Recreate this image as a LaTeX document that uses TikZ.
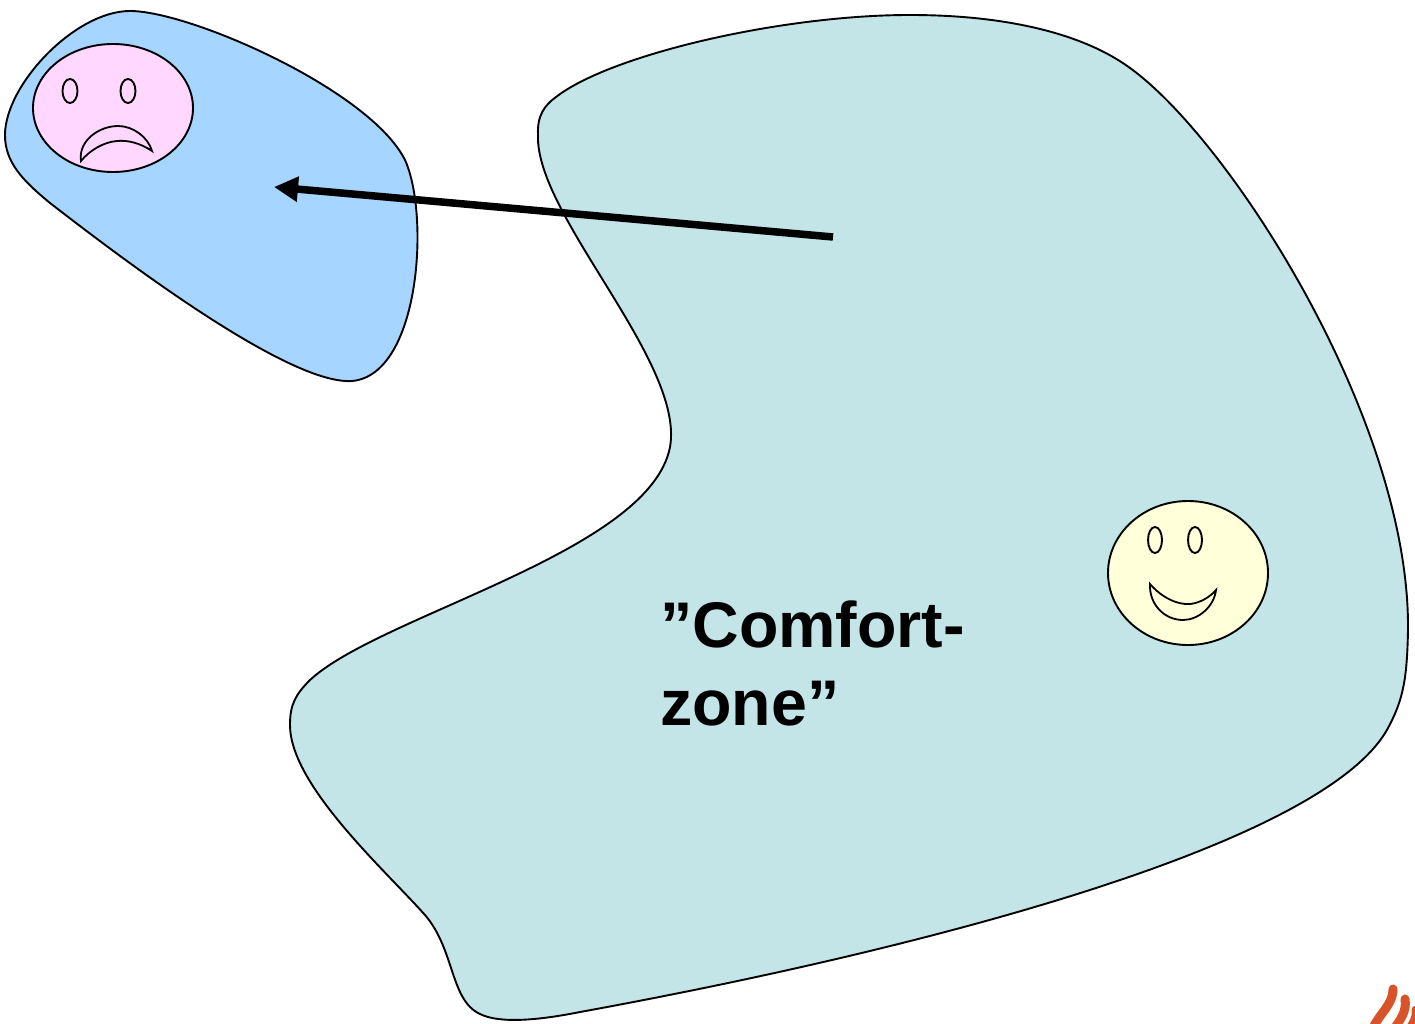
\documentclass[tikz,border=0pt]{standalone}
\usepackage{fontspec}
\setmainfont{Liberation Sans}
\usetikzlibrary{arrows.meta}
\definecolor{zonefill}{HTML}{C3E5E8}
\definecolor{outfill}{HTML}{A6D5FF}
\definecolor{sadfill}{HTML}{FFD7FF}
\definecolor{happyfill}{HTML}{FFFFD9}
\definecolor{flame}{HTML}{D9532A}
\tikzset{
  blob/.style={draw=black,line width=1.9pt,line join=round},
  face/.style={draw=black,line width=1.9pt},
  eye/.style={draw=black,line width=1.9pt,fill=none},
  mouth/.style={draw=black,line width=1.8pt,line join=miter},
  bigarrow/.style={draw=black,line width=7.5pt,-{Triangle[length=24pt,width=24pt]},shorten >=0pt},
  lbl/.style={font=\fontsize{64.5}{78}\selectfont\bfseries,align=left,anchor=north west,inner sep=0pt},
  flamestroke/.style={draw=flame,line width=9pt,line cap=round}
}
\begin{document}
\begin{tikzpicture}[x=1pt,y=-1pt]
\useasboundingbox (0,0) rectangle (1415,1024);
% comfort zone
\path[blob,fill=zonefill] (538,135)
 .. controls (537,115) and (545,105) .. (556,97)
 .. controls (610,55) and (780,15) .. (910,15)
 .. controls (1010,15) and (1085,35) .. (1130,68)
 .. controls (1230,140) and (1410,420) .. (1408,630)
 .. controls (1407,680) and (1403,700) .. (1388,728)
 .. controls (1325,845) and (920,950) .. (580,1012)
 .. controls (540,1020) and (500,1024) .. (480,1014)
 .. controls (450,1000) and (455,950) .. (425,915)
 .. controls (385,870) and (290,785) .. (290,725)
 .. controls (290,705) and (295,695) .. (310,680)
 .. controls (380,615) and (650,552) .. (670,447)
 .. controls (685,362) and (535,215) .. (538,135) -- cycle;
% outside zone
\path[blob,fill=outfill] (5,135)
 .. controls (5,85) and (75,11) .. (130,11)
 .. controls (190,11) and (370,90) .. (405,160)
 .. controls (430,215) and (420,375) .. (352,381)
 .. controls (290,385) and (130,265) .. (50,203)
 .. controls (22,180) and (5,162) .. (5,135) -- cycle;
% sad face
\path[face,fill=sadfill] (113,108) ellipse [x radius=80,y radius=64];
\path[eye] (70,91) ellipse [x radius=7.5,y radius=12];
\path[eye] (128,91) ellipse [x radius=7.5,y radius=12];
\path[mouth] (81,161) .. controls (78,140) and (100,126) .. (118,126)
 .. controls (133,126) and (148,137) .. (152,151)
 .. controls (140,143) and (128,140) .. (117,141)
 .. controls (104,142) and (90,150) .. (81,161) -- cycle;
% happy face
\path[face,fill=happyfill] (1188,573) ellipse [x radius=80,y radius=72];
\path[eye] (1155,540) ellipse [x radius=7,y radius=13];
\path[eye] (1195,540) ellipse [x radius=7,y radius=13];
\path[mouth] (1150,584) .. controls (1162,598) and (1178,605) .. (1190,604)
 .. controls (1200,603) and (1210,597) .. (1216,590)
 .. controls (1214,607) and (1198,620) .. (1183,620)
 .. controls (1165,620) and (1149,605) .. (1150,584) -- cycle;
% arrow
\coordinate (arrowstart) at (833,237);
\coordinate (arrowend) at (274,187);
\draw[bigarrow] (arrowstart) -- (arrowend);
% label
\node[lbl] (comfort) at (660,601) {”Comfort-\\zone”};
% corner logo
\draw[flamestroke] (1372,1030) .. controls (1380,1012) and (1393,1005) .. (1393,989);
\draw[flamestroke] (1392,1032) .. controls (1400,1020) and (1407,1012) .. (1405,999);
\draw[flamestroke] (1409,1030) .. controls (1414,1022) and (1417,1018) .. (1416,1010);
\end{tikzpicture}
\end{document}
